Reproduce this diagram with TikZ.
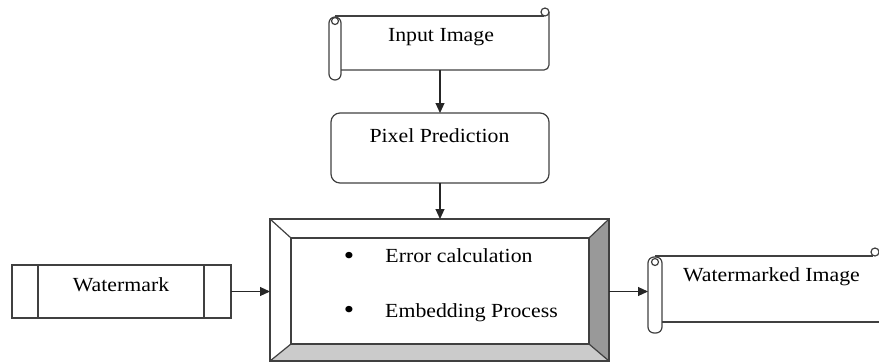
\documentclass[tikz,border=0pt]{standalone}
\usepackage{fontspec}
\setmainfont{Liberation Serif}[FakeStretch=1.09]
\usetikzlibrary{arrows.meta}
\definecolor{edge}{HTML}{404040}
\definecolor{shadeR}{HTML}{999999}
\definecolor{shadeB}{HTML}{CBCBCB}
\tikzset{
  body/.style={rectangle, inner sep=0pt, outer sep=0pt},
  lbl/.style={inner sep=0pt, anchor=base, font=\fontsize{20}{24}\selectfont, text=black},
  bul/.style={inner sep=0pt, anchor=base, font=\fontsize{27}{30}\selectfont, text=black},
  ln/.style={draw=edge, line width=1.2pt},
  arr/.style={draw=black!85, line width=1.1pt, -{Triangle[length=10pt,width=9pt]}},
}
\begin{document}
\begin{tikzpicture}[x=1pt,y=-1pt]
\useasboundingbox (0,0) rectangle (879,362);

% ---------- Input Image scroll ----------
\node[body, minimum width=209pt, minimum height=54pt] (inp) at (445.5,43) {};
\draw[ln] (335,16) -- (544,16);
\draw[ln] (545,12) circle[radius=4];
\draw[ln, rounded corners=5] (549,12) -- (549,70) -- (341,70);
\draw[ln, rounded corners=6] (329,17) rectangle (341,80);
\draw[ln] (335,21) circle[radius=3.5];
\node[lbl] (inpt) at (441,41) {Input Image};

% ---------- Pixel Prediction ----------
\node[body, minimum width=218pt, minimum height=70pt, draw=edge, line width=1.2pt, rounded corners=9pt] (pix) at (440,148) {};
\node[lbl] (pixt) at (439.5,142) {Pixel Prediction};

% ---------- Main bevel box ----------
\node[body, minimum width=339pt, minimum height=142pt] (mb) at (439.5,290) {};
\fill[shadeB] (270,361) -- (609,361) -- (589,344) -- (291,344) -- cycle;
\fill[shadeR] (609,219) -- (609,361) -- (589,344) -- (589,238) -- cycle;
\draw[ln] (270,219) rectangle (609,361);
\draw[ln] (291,238) rectangle (589,344);
\draw[ln] (270,219) -- (291,238);
\draw[ln] (609,219) -- (589,238);
\draw[ln] (270,361) -- (291,344);
\draw[ln] (609,361) -- (589,344);
\node[bul] (b1) at (349,264) {\textbullet};
\node[lbl] (t1) at (459,262) {Error calculation};
\node[bul] (b2) at (349,318.5) {\textbullet};
\node[lbl] (t2) at (471.5,317) {Embedding Process};

% ---------- Watermark ----------
\node[body, minimum width=219pt, minimum height=53pt, draw=edge, line width=1.2pt] (wm) at (121.5,291.5) {};
\draw[ln] (38,265) -- (38,318);
\draw[ln] (204,265) -- (204,318);
\node[lbl] (wmt) at (121,291) {Watermark};

% ---------- Watermarked Image scroll ----------
\node[body, minimum width=14pt, minimum height=76pt] (roll2) at (655,295) {};
\draw[ln] (655,256) -- (873,256);
\draw[ln] (875,252) circle[radius=4];
\draw[ln] (662,322) -- (880,322);
\draw[ln, rounded corners=6] (648,257) rectangle (662,333);
\draw[ln] (655,262) circle[radius=3.5];
\node[lbl] (wmit) at (771.5,281) {Watermarked Image};

% ---------- Connectors ----------
\draw[arr] (inp.south -| pix.north) -- (pix.north);
\draw[arr] (pix.south) -- (pix.south |- mb.north);
\draw[arr] (wm.east) -- (wm.east -| mb.west);
\draw[arr] (wm.east -| mb.east) -- (wm.east -| roll2.west);
\end{tikzpicture}
\end{document}
